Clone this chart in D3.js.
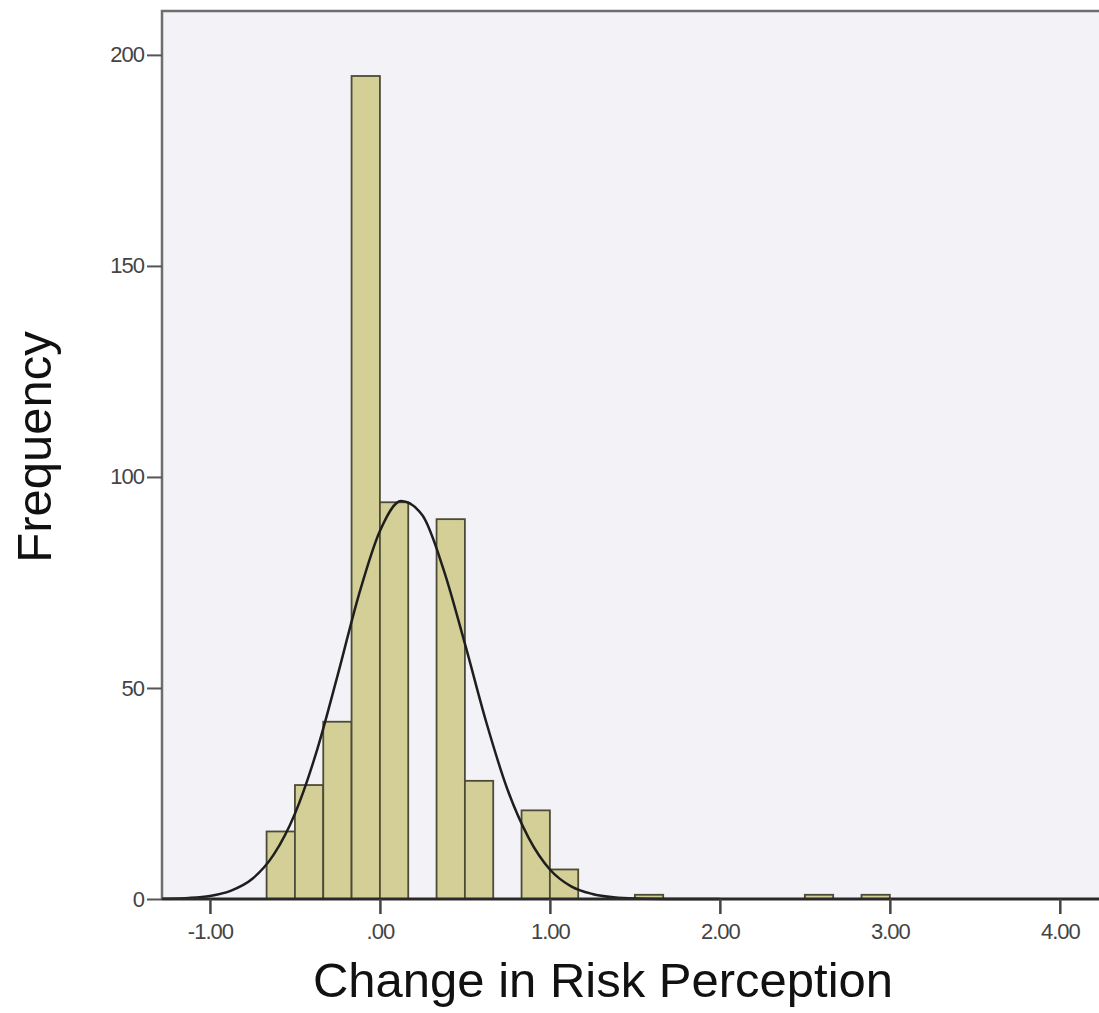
<!DOCTYPE html>
<html>
<head>
<meta charset="utf-8">
<script src="https://cdn.jsdelivr.net/npm/d3@7"></script>
<style>
  body { margin: 0; background: #fff; }
  svg { display: block; font-family: 'Liberation Sans', Arial, sans-serif; }
</style>
</head>
<body>
<div id="chart"></div>
<script>
// Histogram bins (width 1/6) and their counts
const binStarts = [-4/6, -3/6, -2/6, -1/6, 0, 1/6, 2/6, 3/6, 4/6, 5/6, 6/6, 7/6, 8/6, 9/6,
  10/6, 11/6, 12/6, 13/6, 14/6, 15/6, 16/6, 17/6];
const binWidth = 1 / 6;
const counts = [16, 27, 42, 195, 94, 0, 90, 28, 0, 21, 7, 0, 0, 1,
  0, 0, 0, 0, 0, 1, 0, 1];

// Normal curve overlay, heights
const curveX = [-1.28, -1.25, -1.125, -1, -0.875, -0.75, -0.625, -0.5, -0.375, -0.25, -0.125, 0,
  0.125, 0.25, 0.375, 0.5, 0.625, 0.75, 0.875, 1, 1.125, 1.25, 1.375, 1.5, 1.75, 2.0];
const curveY = [0.05, 0.07, 0.24, 0.73, 2.0, 4.8, 10.5, 20.2, 34.6, 52.8, 71.9, 87.2,
  94.3, 90.9, 78.0, 60.5, 42, 26, 14.5, 7.0, 3.0, 1.2, 0.4, 0.12, 0.01, 0];

const xTicks = [-1, 0, 1, 2, 3, 4];
const yTicks = [0, 50, 100, 150, 200];

const width = 1099;
const height = 1013;
const plot = { left: 162, right: 1121, top: 11, bottom: 899 };

const svg = d3.select('#chart')
  .append('svg')
  .attr('width', width)
  .attr('height', height);

const x = d3.scaleLinear()
  .domain([-1.282, 4.36])
  .range([plot.left, plot.right]);

const y = d3.scaleLinear()
  .domain([0, 210.4])
  .range([plot.bottom, plot.top]);

// plot background
svg.append('rect')
  .attr('x', plot.left)
  .attr('y', plot.top)
  .attr('width', plot.right - plot.left)
  .attr('height', plot.bottom - plot.top)
  .attr('fill', '#f3f2f7');

// bars
svg.append('g')
  .selectAll('rect')
  .data(counts.map((c, i) => ({ start: binStarts[i], count: c })).filter((d) => d.count > 0))
  .enter()
  .append('rect')
  .attr('x', (d) => x(d.start))
  .attr('y', (d) => y(d.count))
  .attr('width', (d) => x(d.start + binWidth) - x(d.start))
  .attr('height', (d) => y(0) - y(d.count))
  .attr('fill', '#d4cf97')
  .attr('stroke', '#4d4b38')
  .attr('stroke-width', 1.8);

// normal curve
const line = d3.line()
  .x((d, i) => x(curveX[i]))
  .y((d) => y(d))
  .curve(d3.curveMonotoneX);

svg.append('path')
  .datum(curveY)
  .attr('d', line)
  .attr('fill', 'none')
  .attr('stroke', '#1e1e1e')
  .attr('stroke-width', 2.5);

// frame
svg.append('path')
  .attr('d', `M${plot.left},${plot.bottom}V${plot.top}H${plot.right}`)
  .attr('fill', 'none')
  .attr('stroke', '#6e6e6e')
  .attr('stroke-width', 2.5);

// axes
const yAxis = d3.axisLeft(y)
  .tickValues(yTicks)
  .tickSize(15)
  .tickPadding(3)
  .tickFormat(d3.format('d'));

const yG = svg.append('g')
  .attr('transform', `translate(${plot.left},0)`)
  .call(yAxis);
yG.select('.domain').remove();
yG.selectAll('line').attr('stroke', '#555').attr('stroke-width', 2);
yG.selectAll('text')
  .style('font-size', '22px')
  .attr('fill', '#444')
  .attr('letter-spacing', '-1px');

const xAxis = d3.axisBottom(x)
  .tickValues(xTicks)
  .tickSize(15)
  .tickPadding(9)
  .tickFormat((v) => (v === 0 ? '.00' : v.toFixed(2)));

const xG = svg.append('g')
  .attr('transform', `translate(0,${plot.bottom})`)
  .call(xAxis);
xG.select('.domain')
  .attr('d', `M${plot.left},0H${plot.right}`)
  .attr('stroke', '#2a2a2a')
  .attr('stroke-width', 3);
xG.selectAll('line').attr('stroke', '#444').attr('stroke-width', 2.5);
xG.selectAll('text')
  .style('font-size', '22px')
  .attr('fill', '#444')
  .attr('letter-spacing', '-1px');

// axis titles
svg.append('text')
  .attr('transform', 'rotate(-90)')
  .attr('x', -447)
  .attr('y', 51)
  .attr('text-anchor', 'middle')
  .style('font-size', '49px')
  .attr('fill', '#111')
  .text('Frequency');

svg.append('text')
  .attr('x', 603)
  .attr('y', 997)
  .attr('text-anchor', 'middle')
  .style('font-size', '49px')
  .attr('fill', '#111')
  .text('Change in Risk Perception');
</script>
</body>
</html>
